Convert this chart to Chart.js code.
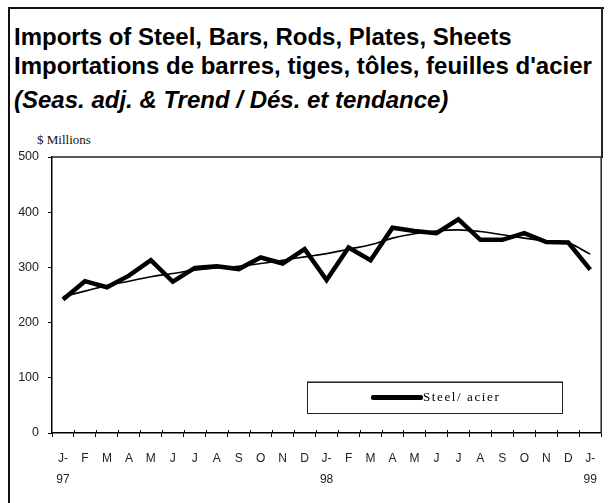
<!DOCTYPE html>
<html>
<head>
<meta charset="utf-8">
<script src="https://cdn.jsdelivr.net/npm/chart.js@4.4.0/dist/chart.umd.min.js"></script>
<style>
  html, body { margin: 0; padding: 0; background: #fff; }
  body { width: 608px; height: 503px; position: relative; overflow: hidden; }
  #chart { position: absolute; left: 0; top: 0; }
  .frame { position: absolute; left: 8px; top: 7px; width: 594px; height: 520px;
           border-top: 2px solid #111; border-left: 2px solid #111; }
  .frame-right { position: absolute; left: 601px; top: 7px; width: 0; height: 151px;
           border-left: 2px solid #222; }
  .title { position: absolute; left: 14px; font-family: "Liberation Sans", Arial, sans-serif;
           font-weight: bold; font-size: 24px; color: #000; white-space: nowrap; line-height: 24px; }
  .unit { position: absolute; left: 37px; top: 132px; font-family: "Liberation Serif", "Times New Roman", serif;
          font-size: 13px; color: #111; }
  .legend { position: absolute; left: 307px; top: 382px; width: 254px; height: 30px;
            border: 1px solid #222; box-shadow: 0 -1px 0 #888; background: #fff; }
  .legend .swatch { position: absolute; left: 63px; top: 12px; width: 52px; height: 5px;
            background: #000; border-radius: 2px; }
  .legend .label { position: absolute; left: 115px; top: 6px; font-family: "Liberation Serif", "Times New Roman", serif;
            font-size: 13px; letter-spacing: 1.6px; color: #000; }
</style>
</head>
<body>
<div class="frame"></div>
<div class="frame-right"></div>
<div class="title" style="top:25px">Imports of Steel, Bars, Rods, Plates, Sheets</div>
<div class="title" style="top:54px">Importations de barres, tiges, tôles, feuilles d'acier</div>
<div class="title" style="top:88px; font-style:italic">(Seas. adj. &amp; Trend / Dés. et tendance)</div>
<div class="unit">$ Millions</div>
<canvas id="chart" width="608" height="503"></canvas>
<div class="legend"><div class="swatch"></div><div class="label">Steel/ acier</div></div>

<script>
// months Jan 1997 - Jan 1999
const months = [['J-', '97'], 'F', 'M', 'A', 'M', 'J', 'J', 'A', 'S', 'O', 'N', 'D',
                ['J-', '98'], 'F', 'M', 'A', 'M', 'J', 'J', 'A', 'S', 'O', 'N', 'D',
                ['J-', '99']];

// seasonally adjusted series
const steel = [242, 275, 264, 285, 313, 274, 299, 302, 297, 318, 307, 333,
               277, 336, 313, 372, 366, 362, 387, 350, 350, 362, 346, 345, 296];

// trend series
const trend = [247, 257, 267, 275, 283, 289, 295, 299, 302, 307, 313, 319,
               325, 333, 341, 353, 361, 366, 368, 365, 359, 353, 348, 344, 324];

const yTicks = [0, 100, 200, 300, 400, 500];

// draws top/right frame of the plot and ticks that cross the x axis
const framePlugin = {
    id: 'frame',
    afterDraw(chart) {
        const ctx = chart.ctx;
        const a = chart.chartArea;
        ctx.save();
        ctx.strokeStyle = '#222';
        ctx.lineWidth = 1.5;
        ctx.beginPath();
        ctx.moveTo(a.left, a.top);
        ctx.lineTo(a.right, a.top);
        ctx.lineTo(a.right, a.bottom);
        ctx.stroke();

        // upper half of x tick marks
        const x = chart.scales.x;
        const n = months.length;
        ctx.strokeStyle = '#000';
        ctx.lineWidth = 1;
        for (let i = 1; i < n; i++) {
            const px = Math.round(x.left + i * (x.right - x.left) / n) + 0.5;
            ctx.beginPath();
            ctx.moveTo(px, a.bottom - 3);
            ctx.lineTo(px, a.bottom);
            ctx.stroke();
        }
        ctx.restore();
    }
};

new Chart(document.getElementById('chart'), {
    type: 'line',
    data: {
        labels: months,
        datasets: [{
            label: 'Steel/acier',
            data: steel,
            borderColor: '#000',
            borderWidth: 4.5,
            pointRadius: 0,
            tension: 0,
            borderJoinStyle: 'miter'
        }, {
            label: 'Trend',
            data: trend,
            borderColor: '#000',
            borderWidth: 1.6,
            pointRadius: 0,
            tension: 0.4
        }]
    },
    options: {
        responsive: false,
        devicePixelRatio: 1,
        animation: false,
        layout: { padding: { left: 10, right: 6, top: 157, bottom: 10 } },
        plugins: {
            legend: { display: false },
            tooltip: { enabled: false }
        },
        scales: {
            x: {
                offset: true,
                afterFit: (scale) => { scale.height = 60; },
                grid: { offset: true, drawOnChartArea: false, tickLength: 4, color: '#000' },
                border: { color: '#000', width: 1.5 },
                ticks: {
                    color: '#222',
                    padding: 11,
                    maxRotation: 0,
                    autoSkip: false,
                    font: { family: '"Liberation Sans", Arial, sans-serif', size: 12, lineHeight: 1.75 }
                }
            },
            y: {
                min: 0,
                max: 500,
                afterFit: (scale) => { scale.width = 42; },
                afterBuildTicks: (scale) => { scale.ticks = yTicks.map(v => ({ value: v })); },
                grid: { drawOnChartArea: false, tickLength: 4, color: '#000' },
                border: { color: '#000', width: 1.5 },
                ticks: {
                    color: '#222',
                    padding: 9,
                    font: { family: '"Liberation Sans", Arial, sans-serif', size: 12.5 }
                }
            }
        }
    },
    plugins: [framePlugin]
});
</script>
</body>
</html>
